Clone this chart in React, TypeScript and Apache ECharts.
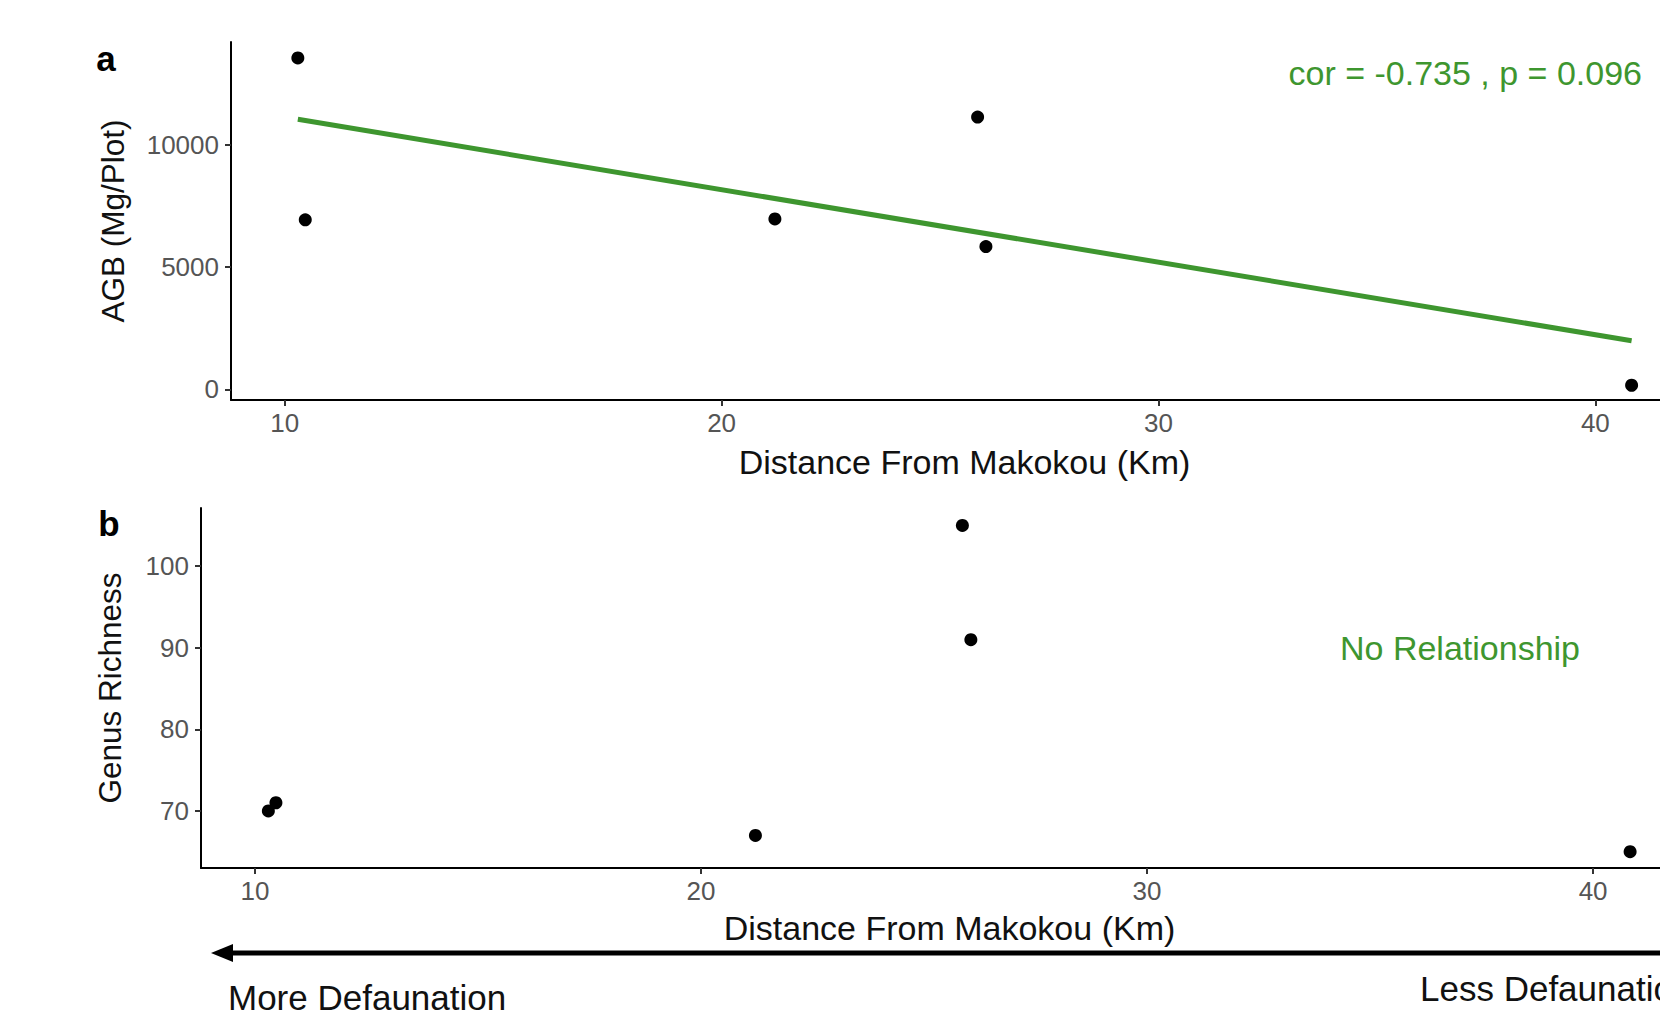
import React, { useEffect, useRef } from "react";
import * as echarts from "echarts";

const distanceKm = [10.3, 10.47, 21.22, 25.86, 26.05, 40.83];
const agbMgPlot = [13550, 6930, 6970, 11130, 5840, 170];
const genusRichness = [70, 71, 67, 105, 91, 65];
const fitDistance = [10.3, 40.83];
const fitAgb = [11040, 1990];
const xTickValues = [10, 20, 30, 40];
const agbTickValues = [0, 5000, 10000];
const richnessTickValues = [70, 80, 90, 100];

const FONT = "'Liberation Sans', Arial, Helvetica, sans-serif";
const GREEN = "#3E962F";

function xAxisCfg(gridIndex: number, min: number, max: number, nameGap: number) {
  return {
    type: "value",
    gridIndex,
    min,
    max,
    name: "Distance From Makokou (Km)",
    nameLocation: "middle",
    nameGap,
    nameTextStyle: { color: "#111", fontSize: 34, fontFamily: FONT, padding: [0, 0, 0, 38] },
    axisLine: { show: true, onZero: false, lineStyle: { color: "#000", width: 2 } },
    axisTick: { show: true, customValues: xTickValues, length: 6, lineStyle: { color: "#333", width: 2 } },
    axisLabel: { customValues: xTickValues, color: "#555", fontSize: 26, fontFamily: FONT, margin: 10, formatter: (v: number) => String(v) },
    splitLine: { show: false },
  };
}

function yAxisCfg(gridIndex: number, min: number, max: number, ticks: number[], name: string, nameGap: number) {
  return {
    type: "value",
    gridIndex,
    min,
    max,
    name,
    nameLocation: "middle",
    nameGap,
    nameTextStyle: { color: "#111", fontSize: 31.5, fontFamily: FONT },
    axisLine: { show: true, onZero: false, lineStyle: { color: "#000", width: 2 } },
    axisTick: { show: true, customValues: ticks, length: 6, lineStyle: { color: "#333", width: 2 } },
    axisLabel: { customValues: ticks, color: "#555", fontSize: 26, fontFamily: FONT, margin: 12, formatter: (v: number) => String(v) },
    splitLine: { show: false },
  };
}

export default function App() {
  const ref = useRef<HTMLDivElement>(null);
  useEffect(() => {
    if (!ref.current) return;
    const chart = echarts.init(ref.current, null, { renderer: "svg" });
    const ptsA = distanceKm.map((d, i) => [d, agbMgPlot[i]]);
    const ptsB = distanceKm.map((d, i) => [d, genusRichness[i]]);
    const fit = fitDistance.map((d, i) => [d, fitAgb[i]]);
    chart.setOption({
      animation: false,
      backgroundColor: "#fff",
      grid: [
        { left: 231, top: 42, width: 1429, height: 358 },
        { left: 201, top: 508, width: 1459, height: 360 },
      ],
      xAxis: [xAxisCfg(0, 8.77, 41.48, 45), xAxisCfg(1, 8.79, 41.5, 43)],
      yAxis: [
        yAxisCfg(0, -433, 14200, agbTickValues, "AGB (Mg/Plot)", 102),
        yAxisCfg(1, 63, 107.14, richnessTickValues, "Genus Richness", 75),
      ],
      series: [
        {
          type: "line",
          xAxisIndex: 0,
          yAxisIndex: 0,
          data: fit,
          showSymbol: false,
          symbol: "none",
          lineStyle: { color: GREEN, width: 5 },
          z: 2,
        },
        {
          type: "scatter",
          xAxisIndex: 0,
          yAxisIndex: 0,
          data: ptsA,
          symbolSize: 13,
          itemStyle: { color: "#000", opacity: 1 },
          z: 3,
        },
        {
          type: "scatter",
          xAxisIndex: 1,
          yAxisIndex: 1,
          data: ptsB,
          symbolSize: 13,
          itemStyle: { color: "#000", opacity: 1 },
          z: 3,
        },
      ],
      graphic: [
        { type: "text", x: 106, y: 58, style: { text: "a", font: `bold 35px ${FONT}`, fill: "#000", textAlign: "center", textVerticalAlign: "middle" } },
        { type: "text", x: 109, y: 523, style: { text: "b", font: `bold 35px ${FONT}`, fill: "#000", textAlign: "center", textVerticalAlign: "middle" } },
        { type: "text", x: 1642, y: 73, style: { text: "cor = -0.735 , p = 0.096", font: `34px ${FONT}`, fill: GREEN, textAlign: "right", textVerticalAlign: "middle" } },
        { type: "text", x: 1460, y: 648, style: { text: "No Relationship", font: `34px ${FONT}`, fill: GREEN, textAlign: "center", textVerticalAlign: "middle" } },
        { type: "line", shape: { x1: 228, y1: 953, x2: 1660, y2: 953 }, style: { stroke: "#000", lineWidth: 5 } },
        { type: "polygon", shape: { points: [[211, 953], [233, 944], [233, 962]] }, style: { fill: "#000" } },
        { type: "text", x: 228, y: 997, style: { text: "More Defaunation", font: `35px ${FONT}`, fill: "#111", textAlign: "left", textVerticalAlign: "middle" } },
        { type: "text", x: 1420, y: 988, style: { text: "Less Defaunation", font: `35px ${FONT}`, fill: "#111", textAlign: "left", textVerticalAlign: "middle" } },
      ],
    });
    return () => chart.dispose();
  }, []);
  return <div ref={ref} style={{ position: "fixed", left: 0, top: 0, width: 1660, height: 1018 }} />;
}
